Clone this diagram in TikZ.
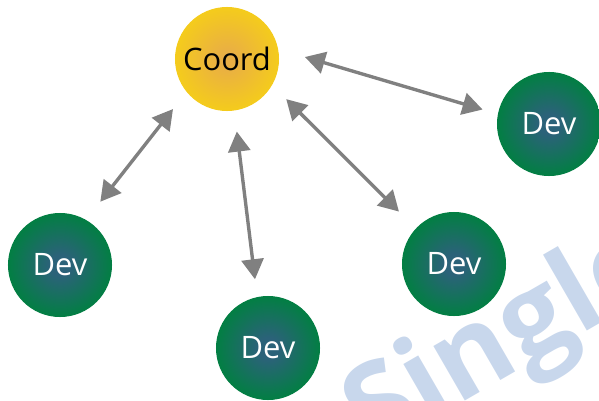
\documentclass[tikz,border=0pt]{standalone}
\usepackage{fontspec}
\setmainfont{Open Sans}
\usetikzlibrary{arrows.meta}

\definecolor{coordrim}{HTML}{F5CD1A}
\definecolor{coordmid}{HTML}{E9AE45}
\definecolor{devrim}{HTML}{008040}
\definecolor{devmid}{HTML}{2B6279}
\definecolor{markblue}{HTML}{C8D7EC}
\definecolor{linkgray}{HTML}{808080}

\pgfdeclareradialshading{coordglow}{\pgfpoint{0bp}{0bp}}{color(0bp)=(coordmid); color(3bp)=(coordmid); color(26bp)=(coordrim); color(50bp)=(coordrim)}
\pgfdeclareradialshading{devglow}{\pgfpoint{0bp}{0bp}}{color(0bp)=(devmid); color(5bp)=(devmid); color(26bp)=(devrim); color(50bp)=(devrim)}

\begin{document}
\begin{tikzpicture}[x=0.025cm, y=-0.025cm,
  coordnode/.style={circle, minimum size=2.6cm, inner sep=0pt, outer sep=0pt,
    shade, shading=coordglow, font=\fontsize{22}{26}\selectfont},
  devnode/.style={circle, minimum size=2.6cm, inner sep=0pt, outer sep=0pt,
    shade, shading=devglow, text=white, font=\fontsize{22}{26}\selectfont},
  link/.style={draw=linkgray, line width=2.4pt,
    {Triangle[length=0.5cm,width=0.55cm]}-{Triangle[length=0.5cm,width=0.55cm]}}]
  \useasboundingbox (0,0) rectangle (599,401);
  % watermark behind everything
  \begin{scope}
    \clip (0,0) rectangle (599,401);
    \node[rotate=30, anchor=base west, inner sep=0pt, text=markblue,
      font=\fontsize{82}{90}\selectfont\bfseries] (mark) at (372,455) {Single};
  \end{scope}
  \node[coordnode] (coord) at (227,59) {Coord};
  \node[devnode] (dev1) at (60,265) {Dev};
  \node[devnode] (dev2) at (268,348) {Dev};
  \node[devnode] (dev3) at (454,264) {Dev};
  \node[devnode] (dev4) at (549,124) {Dev};
  \draw[link, shorten <=0.7cm, shorten >=0.4cm] (coord.11) -- (dev4.169);
  \draw[link, shorten <=0.55cm, shorten >=0.58cm] (coord.219) -- (dev1.60);
  \draw[link, shorten <=0.53cm, shorten >=0.45cm] (coord.278) -- (dev2.102);
  \draw[link, shorten <=0.5cm, shorten >=0.6cm] (coord.330) -- (dev3.137);
\end{tikzpicture}
\end{document}
